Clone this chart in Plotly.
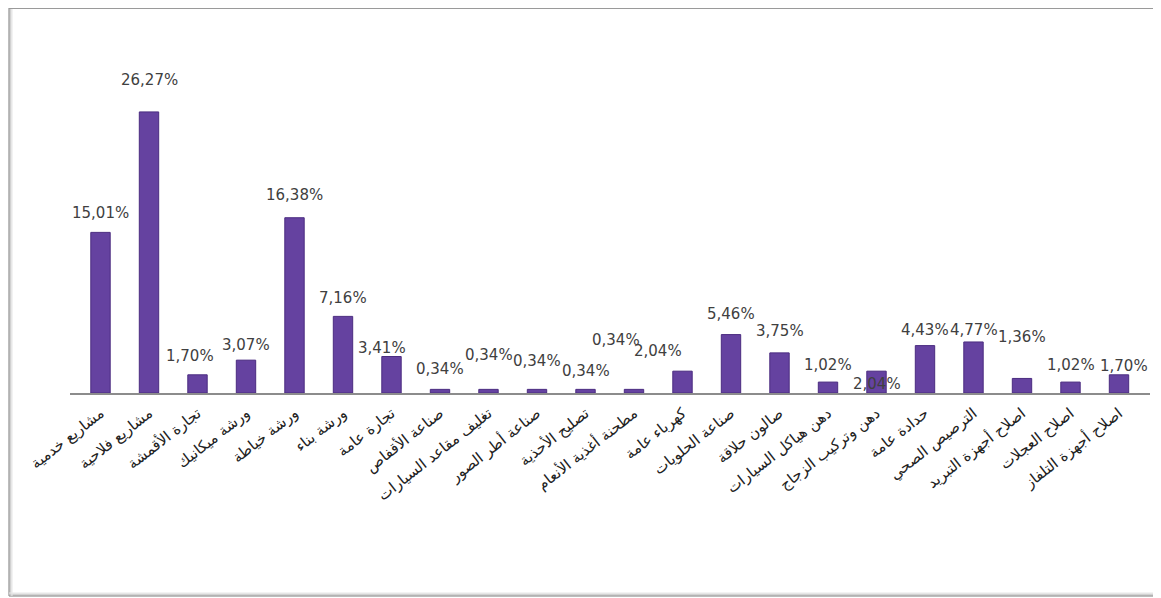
import plotly.graph_objects as go

categories = [
    "مشاريع خدمية", "مشاريع فلاحية", "تجارة الأقمشة", "ورشة ميكانيك", "ورشة خياطة",
    "ورشة بناء", "تجارة عامة", "صناعة الأقفاص", "تغليف مقاعد السيارات", "صناعة أطر الصور",
    "تصليح الأحذية", "مطحنة أغذية الأنعام", "كهرباء عامة", "صناعة الحلويات", "صالون حلاقة",
    "دهن هياكل السيارات", "دهن وتركيب الزجاج", "حدادة عامة", "الترصيص الصحي",
    "اصلاح أجهزة التبريد", "اصلاح العجلات", "اصلاح أجهزة التلفاز",
]
values = [15.01, 26.27, 1.70, 3.07, 16.38, 7.16, 3.41, 0.34, 0.34, 0.34,
          0.34, 0.34, 2.04, 5.46, 3.75, 1.02, 2.04, 4.43, 4.77, 1.36, 1.02, 1.70]

# label offsets (pixels) to mimic the reference label placement
label_dx = [0, 0, -8, 0, 0, 0, -10, 0, 0, 0, 0, -18, -25, 0, 0, 0, 0, 0, 0, 0, 0, 5]
label_dy = [19, 32, 19, 15, 23, 18, 9, 20, 34, 28, 18, 49, 20, 21, 22, 17, -13, 16, 12, 41, 17, 9]

# page body has an 8px margin, so the figure is sized to fit the window
W, H = 1153, 590
ML, MR, MT, MB = 62, 11, 64, 205
pw, ph = W - ML - MR, H - MT - MB

fig = go.Figure()
fig.add_trace(go.Bar(
    x=categories, y=values,
    marker=dict(color="#6542a0", line=dict(color="#4b2c80", width=1)),
    width=0.4,
    hoverinfo="x+y",
))

for c, v, dx, dy in zip(categories, values, label_dx, label_dy):
    fig.add_annotation(
        x=c, y=v, text=f"{v:.2f}".replace(".", ",") + "%",
        showarrow=False, xshift=dx, yshift=dy, yanchor="middle",
        font=dict(family="DejaVu Sans", size=15, color="#404040"),
    )

def px_to_paper_x(px):
    return (px - ML) / pw

def px_to_paper_y(py):
    return (H - MB - py) / ph

# frame with a soft shadow at the left and bottom
for i, col in enumerate(["#7a7a7a", "#a8a8a8", "#cfcfcf", "#e6e6e6"]):
    fig.add_shape(type="line", xref="paper", yref="paper",
                  x0=px_to_paper_x(1 + i), x1=px_to_paper_x(1 + i),
                  y0=px_to_paper_y(0), y1=px_to_paper_y(588),
                  line=dict(color=col, width=1), layer="below")
    fig.add_shape(type="line", xref="paper", yref="paper",
                  x0=px_to_paper_x(1), x1=px_to_paper_x(1151),
                  y0=px_to_paper_y(588 - i), y1=px_to_paper_y(588 - i),
                  line=dict(color=col, width=1), layer="below")
fig.add_shape(type="line", xref="paper", yref="paper",
              x0=px_to_paper_x(1), x1=px_to_paper_x(1151),
              y0=px_to_paper_y(0.5), y1=px_to_paper_y(0.5),
              line=dict(color="#9a9a9a", width=1), layer="below")
for i, col in enumerate(["#9a9a9a", "#d0d0d0", "#ececec"]):
    fig.add_shape(type="line", xref="paper", yref="paper",
                  x0=px_to_paper_x(1150 - i), x1=px_to_paper_x(1150 - i),
                  y0=px_to_paper_y(0), y1=px_to_paper_y(588),
                  line=dict(color=col, width=1), layer="below")

fig.update_layout(
    width=W, height=H,
    margin=dict(l=ML, r=MR, t=MT, b=MB),
    paper_bgcolor="white", plot_bgcolor="rgba(0,0,0,0)",
    showlegend=False,
    xaxis=dict(
        tickangle=-38, showline=True, linecolor="#8c8c8c", linewidth=1.5,
        ticks="", showgrid=False, automargin=False, ticklabelstandoff=4,
        tickfont=dict(family="DejaVu Sans", size=15, color="#222222"),
    ),
    yaxis=dict(range=[0, 30], visible=False, showgrid=False),
)

fig.write_html("out.html")
